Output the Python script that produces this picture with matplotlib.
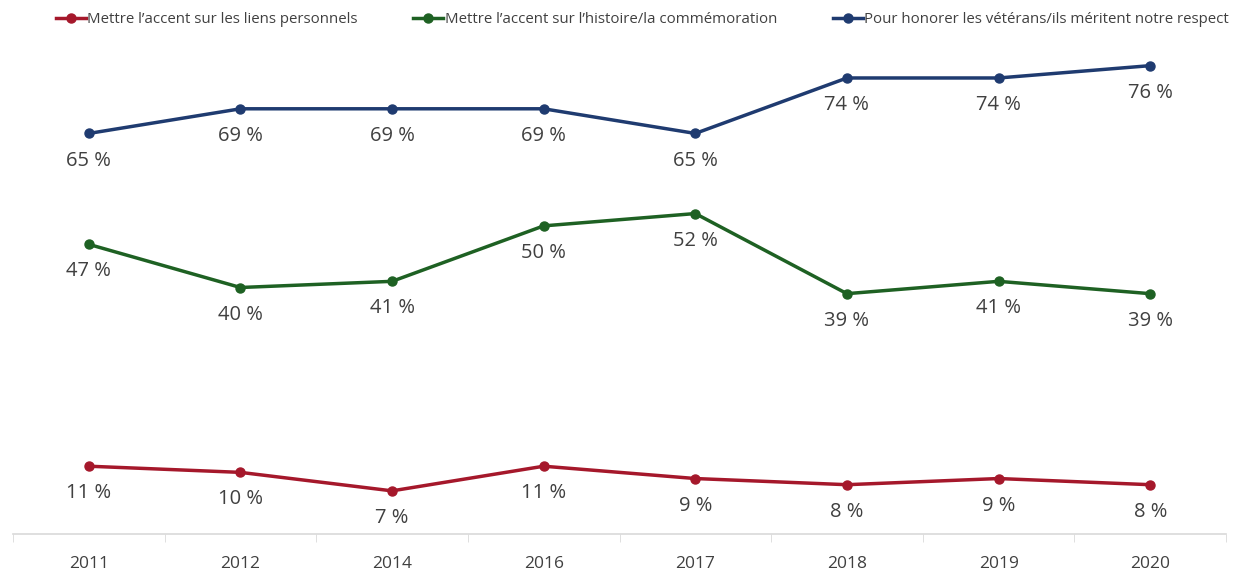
import matplotlib.pyplot as plt
import numpy as np

# Données
annees = ["2011", "2012", "2014", "2016", "2017", "2018", "2019", "2020"]
liens_personnels = [11, 10, 7, 11, 9, 8, 9, 8]
histoire = [47, 40, 41, 50, 52, 39, 41, 39]
veterans = [65, 69, 69, 69, 65, 74, 74, 76]

series = [
    ("Mettre l\u2019accent sur les liens personnels", liens_personnels, "#A5182B"),
    ("Mettre l\u2019accent sur l\u2019histoire/la commémoration", histoire, "#1E6123"),
    ("Pour honorer les vétérans/ils méritent notre respect", veterans, "#1F3B70"),
]

plt.rcParams['font.family'] = ['Open Sans', 'DejaVu Sans']

fig = plt.figure(figsize=(12.38, 5.73), dpi=100)
ax = fig.add_axes([13 / 1238, 39 / 573, 1213 / 1238, 493 / 573])

x = np.arange(len(annees))
for nom, vals, couleur in series:
    ax.plot(x, vals, color=couleur, linewidth=2.5, marker='o', markersize=6.5, label=nom)
    for xi, v in zip(x, vals):
        ax.annotate(f"{v} %", (xi, v), xytext=(0, -19.5), textcoords='offset points',
                    ha='center', va='center', fontsize=14.5, color='#404040')

ax.set_xlim(-0.5, len(annees) - 0.5)
ax.set_ylim(0, 80)
ax.set_yticks([])
ax.set_xticks(x)
ax.set_xticklabels(annees, fontsize=12.5, color='#404040')
ax.set_xticks(np.arange(-0.5, len(annees)), minor=True)
ax.tick_params(axis='x', which='major', length=0, pad=16)
ax.tick_params(axis='x', which='minor', length=6, color='#D9D9D9')
for s in ['top', 'right', 'left']:
    ax.spines[s].set_visible(False)
ax.spines['bottom'].set_color('#D9D9D9')
ax.spines['bottom'].set_linewidth(1.2)

fig.legend(loc='upper center', bbox_to_anchor=(0.519, 1.003), ncol=3, frameon=False,
           fontsize=10.8, handlelength=2.0, handletextpad=0.1, columnspacing=3.7,
           labelcolor='#404040')

fig.savefig("out.png", dpi=100)
